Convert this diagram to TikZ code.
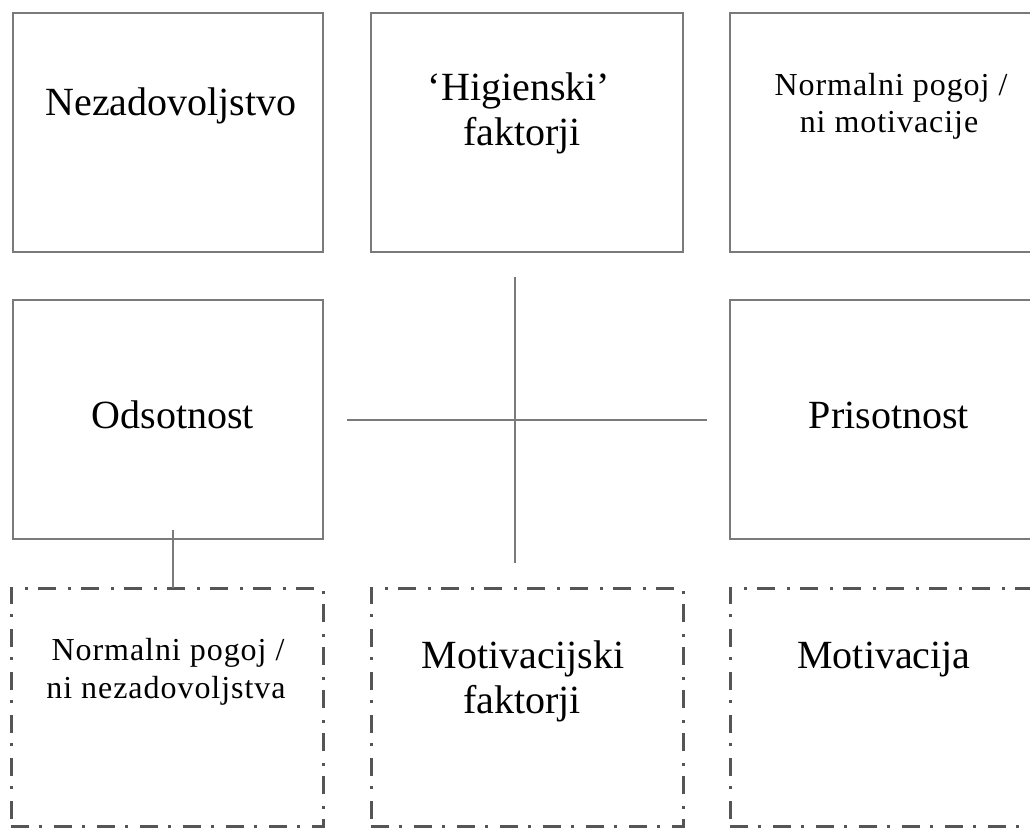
\documentclass[tikz,border=0pt]{standalone}
\usepackage{fontspec}
\setmainfont{Liberation Serif}
\newfontfamily\smallserif[LetterSpace=3]{Liberation Serif}
\usetikzlibrary{calc}
\definecolor{boxgray}{HTML}{7A7A7A}
\definecolor{dashgray}{HTML}{555555}
\definecolor{linegray}{HTML}{7A7A7A}
\tikzset{
  solidbox/.style={draw=boxgray, line width=2.2pt, rectangle, inner sep=0pt, outer sep=0pt},
  dashbox/.style={draw=dashgray, line width=3pt, rectangle, inner sep=0pt, outer sep=0pt,
    dash pattern=on 18pt off 10pt on 3pt off 12pt},
  bigtext/.style={anchor=base, inner sep=0pt, font=\fontsize{40}{45}\selectfont},
  smalltext/.style={anchor=base, inner sep=0pt, font=\smallserif\fontsize{32}{38}\selectfont},
  connector/.style={draw=linegray, line width=2.2pt}
}
\begin{document}
\begin{tikzpicture}[x=1pt, y=-1pt]
\useasboundingbox (0,0) rectangle (1030,828);
\clip (0,0) rectangle (1030,828);
% top row
\node[solidbox, minimum width=310pt, minimum height=239pt] (nez) at (168,132.5) {};
\node[solidbox, minimum width=312pt, minimum height=239pt] (hyg) at (527,132.5) {};
\node[solidbox, minimum width=312pt, minimum height=239pt] (nmot) at (886,132.5) {};
% middle row
\node[solidbox, minimum width=310pt, minimum height=239pt] (ods) at (168,419.5) {};
\node[solidbox, minimum width=312pt, minimum height=239pt] (pri) at (886,419.5) {};
% bottom row
\node[dashbox, minimum width=312pt, minimum height=238pt] (nnez) at (167,707) {};
\node[dashbox, minimum width=312pt, minimum height=238pt] (motf) at (527,707) {};
\node[dashbox, minimum width=312pt, minimum height=238pt] (mot) at (886,707) {};
% texts
\node[bigtext] (t1) at (171,115) {Nezadovoljstvo};
\node[bigtext] (t2a) at (519,100) {‘Higienski’};
\node[bigtext] (t2b) at (522,145) {faktorji};
\node[smalltext] (t3a) at (891,95) {Normalni pogoj /};
\node[smalltext] (t3b) at (889,132) {ni motivacije};
\node[bigtext] (t4) at (173,428) {Odsotnost};
\node[bigtext] (t5) at (889,428) {Prisotnost};
\node[smalltext] (t6a) at (168,660) {Normalni pogoj /};
\node[smalltext] (t6b) at (166,698) {ni nezadovoljstva};
\node[bigtext] (t7a) at (523,668) {Motivacijski};
\node[bigtext] (t7b) at (522,713) {faktorji};
\node[bigtext] (t8) at (884,668) {Motivacija};
% cross
\coordinate (vtop) at (515,277);
\coordinate (vbot) at (515,563);
\coordinate (hleft) at (347,420);
\coordinate (hright) at (707,420);
\draw[connector] (vtop) -- (vbot);
\draw[connector] (hleft) -- (hright);
% small connector
\coordinate (cstart) at ($(ods.south)+(5,-9)$);
\draw[connector] (cstart) -- (cstart |- nnez.north);
\end{tikzpicture}
\end{document}
